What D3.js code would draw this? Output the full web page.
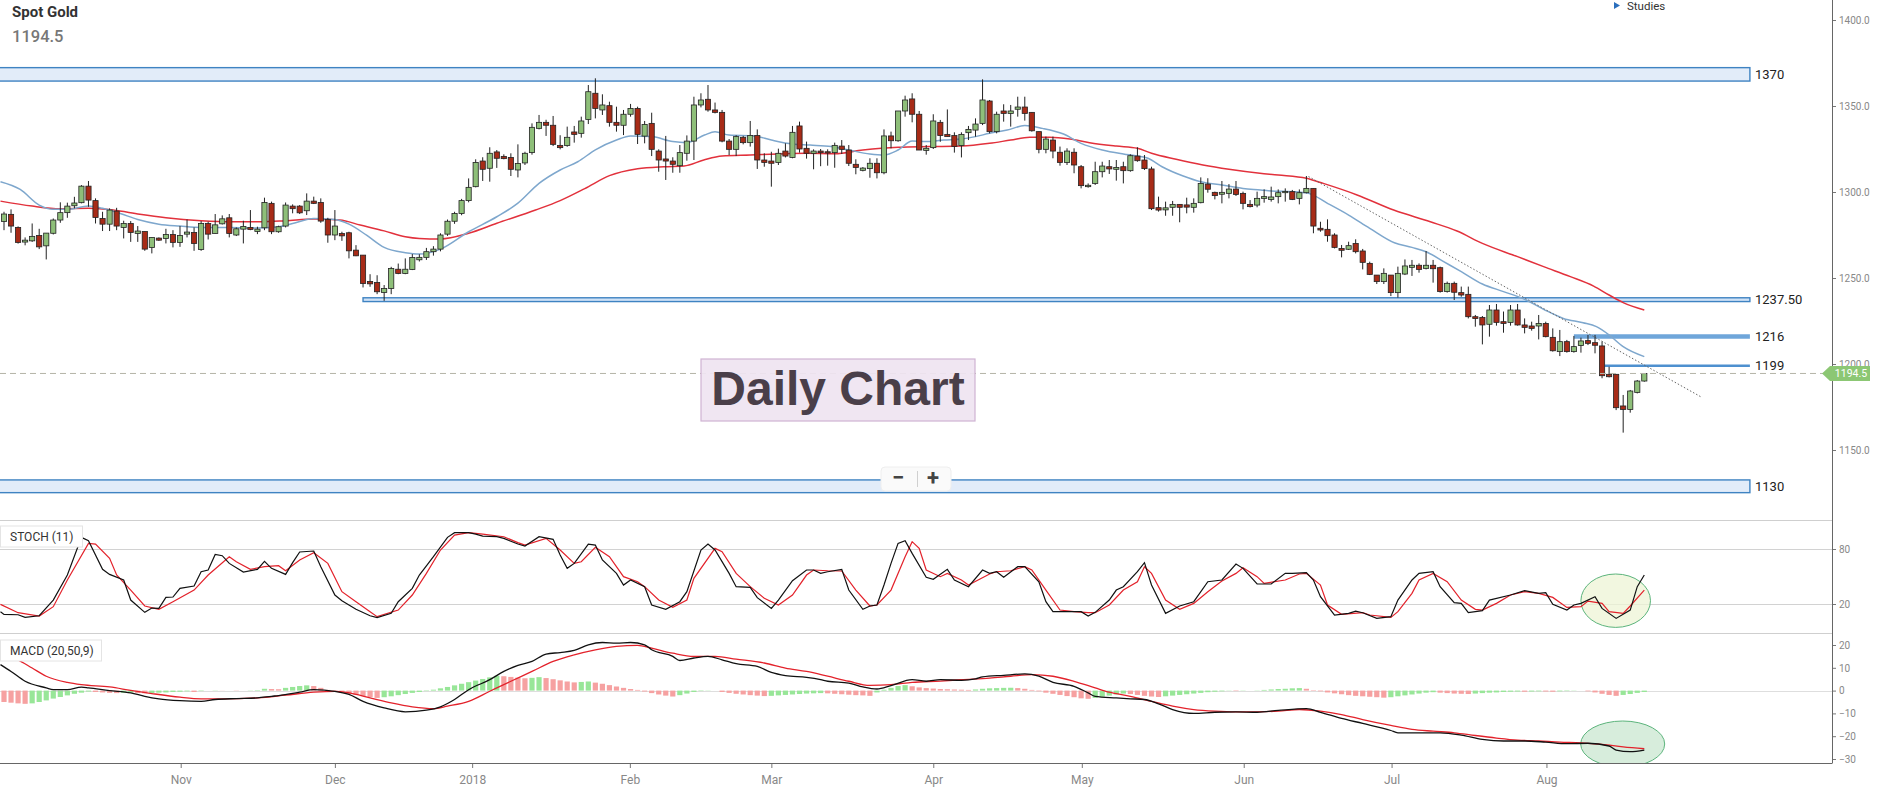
<!DOCTYPE html>
<html lang="en">
<head>
  <meta charset="UTF-8">
  <title>Spot Gold - Daily Chart</title>
  <style>
    body { margin: 0; padding: 0; background: #fff; }
    svg { display: block; font-family: Roboto, "Liberation Sans", Arial, sans-serif; }
    .tick-label { fill: #888; font-size: 10px; }
    .month-label { fill: #888; font-size: 12px; }
    .level-label { fill: #222; font-size: 13px; }
    .panel-title { fill: #333; font-size: 12px; }
  </style>
</head>
<body>
  <svg id="chart" width="1878" height="792"></svg>

  <script src="https://d3js.org/d3.v7.min.js"></script>
  <script>
    // candles, one per trading day (index 0 = first visible candle)
    const opens = [
      1282.9,1287.0,1279.4,1270.9,1271.6,1274.7,1268.7,1276.0,1283.7,1288.0,
      1292.0,1293.8,1303.4,1295.0,1284.6,1281.3,1288.9,1279.4,1281.7,1275.9,
      1277.0,1267.7,1273.2,1273.0,1275.3,1270.7,1275.5,1276.5,1266.6,1281.7,
      1275.9,1281.5,1285.0,1275.0,1278.4,1279.4,1277.1,1279.2,1293.4,1276.9,
      1280.2,1291.8,1291.8,1289.1,1294.7,1293.9,1284.0,1275.0,1275.9,1276.3,
      1266.2,1263.3,1248.0,1247.4,1241.6,1243.9,1255.1,1252.6,1254.9,1260.6,
      1262.0,1265.3,1266.8,1275.5,1283.0,1287.5,1295.0,1303.1,1318.0,1313.8,
      1323.3,1320.7,1320.1,1312.8,1316.9,1322.9,1337.0,1340.5,1338.8,1327.1,
      1327.0,1334.9,1334.1,1342.2,1357.4,1347.7,1350.2,1340.5,1338.8,1345.2,
      1348.6,1332.5,1339.9,1323.8,1319.2,1318.0,1315.3,1322.5,1329.6,1350.6,
      1353.9,1347.7,1346.3,1329.6,1324.8,1331.8,1328.7,1332.9,1318.6,1318.0,
      1317.2,1323.8,1320.1,1338.4,1325.4,1322.5,1323.8,1323.4,1322.9,1326.7,
      1324.4,1316.1,1312.6,1313.6,1316.7,1311.2,1332.6,1329.8,1347.1,1354.1,
      1345.2,1324.2,1325.8,1340.5,1333.5,1332.8,1327.0,1334.5,1336.0,1339.9,
      1352.9,1335.1,1347.1,1345.7,1348.1,1349.4,1346.3,1335.1,1324.8,1330.2,
      1323.1,1317.2,1323.1,1314.7,1303.1,1305.0,1311.8,1314.7,1313.2,1314.7,
      1312.4,1320.9,1318.6,1313.4,1290.9,1289.6,1291.1,1292.8,1292.5,1291.1,
      1293.8,1304.6,1299.8,1298.7,1299.2,1301.7,1299.2,1292.8,1292.4,1296.3,
      1295.7,1297.3,1299.8,1300.2,1296.3,1299.6,1302.1,1278.9,1278.3,1275.0,
      1267.2,1266.7,1270.1,1265.7,1258.5,1251.7,1247.9,1251.7,1241.5,1252.3,
      1256.2,1257.4,1255.6,1257.4,1256.0,1242.1,1246.9,1241.5,1240.5,1227.5,
      1227.1,1223.1,1231.4,1224.6,1224.2,1231.4,1222.7,1222.1,1222.1,1223.6,
      1215.5,1207.2,1213.0,1207.2,1210.7,1213.6,1212.4,1210.5,1194.0,1194.0,
      1175.6,1173.6,1183.5,1190.1
    ];
    const highs = [
      1288.5,1289.9,1280.0,1273.6,1281.7,1278.6,1276.1,1284.6,1294.0,1293.8,
      1297.2,1304.0,1306.4,1296.3,1288.5,1290.5,1290.8,1283.3,1283.1,1280.2,
      1277.0,1273.6,1273.6,1278.6,1277.8,1280.2,1284.0,1279.4,1283.1,1282.7,
      1287.2,1286.4,1287.2,1279.4,1283.3,1289.5,1279.8,1296.7,1294.4,1280.4,
      1293.9,1292.8,1292.4,1299.2,1297.3,1296.3,1285.0,1289.5,1276.9,1276.9,
      1269.1,1263.3,1252.2,1251.6,1245.9,1256.5,1258.4,1261.4,1263.9,1263.8,
      1267.5,1268.5,1276.0,1284.0,1288.5,1296.0,1307.9,1319.0,1320.2,1326.0,
      1324.4,1321.9,1322.5,1327.7,1323.4,1339.9,1344.8,1342.0,1344.2,1333.0,
      1338.0,1338.4,1343.8,1362.2,1366.1,1356.8,1352.5,1349.6,1347.7,1351.2,
      1349.6,1341.3,1346.1,1324.8,1332.6,1320.2,1327.3,1332.9,1355.4,1357.4,
      1362.2,1352.0,1347.7,1330.8,1333.0,1332.6,1341.3,1336.4,1322.5,1323.4,
      1325.2,1328.3,1338.4,1340.9,1329.3,1324.8,1325.0,1324.8,1328.7,1330.2,
      1327.3,1319.0,1314.5,1319.6,1319.6,1336.4,1335.1,1347.1,1356.0,1357.4,
      1347.1,1327.3,1345.2,1341.9,1348.0,1334.7,1334.7,1338.4,1342.8,1365.5,
      1353.5,1346.7,1351.0,1350.6,1355.4,1355.4,1346.3,1335.1,1332.2,1332.2,
      1326.4,1325.4,1325.4,1315.7,1305.0,1317.6,1317.6,1318.6,1318.6,1317.6,
      1321.9,1326.0,1321.5,1314.7,1297.3,1294.4,1294.8,1292.8,1296.7,1296.3,
      1308.5,1308.0,1300.2,1306.4,1304.6,1306.4,1300.2,1295.3,1300.2,1301.5,
      1303.1,1301.5,1302.1,1301.2,1301.5,1309.3,1302.1,1282.7,1284.1,1276.0,
      1269.2,1271.1,1272.5,1266.9,1259.5,1251.7,1255.6,1251.7,1256.6,1260.8,
      1260.5,1258.5,1265.7,1260.5,1256.6,1247.9,1247.9,1245.0,1245.0,1228.5,
      1227.9,1234.3,1234.9,1230.5,1234.3,1234.9,1226.5,1224.6,1228.5,1224.6,
      1220.7,1219.8,1214.0,1216.3,1215.3,1216.9,1216.9,1213.0,1198.4,1194.0,
      1182.0,1184.9,1190.7,1194.6
    ];
    const lows = [
      1277.8,1276.3,1270.0,1269.0,1271.0,1266.8,1260.8,1275.3,1282.1,1285.0,
      1290.5,1293.4,1291.4,1281.7,1277.3,1277.3,1277.8,1273.0,1271.0,1271.0,
      1265.8,1264.3,1271.6,1270.1,1267.8,1268.1,1273.6,1265.8,1265.8,1272.4,
      1275.9,1281.1,1273.6,1274.4,1270.1,1277.8,1275.5,1277.8,1275.5,1276.3,
      1279.4,1287.6,1287.2,1286.6,1293.0,1282.1,1270.5,1272.0,1271.6,1261.4,
      1262.7,1244.5,1244.9,1240.6,1236.7,1240.6,1252.2,1252.2,1254.6,1259.6,
      1260.5,1263.0,1265.5,1274.5,1281.5,1286.5,1294.0,1302.7,1306.4,1306.0,
      1314.0,1319.0,1309.3,1308.5,1315.7,1321.7,1336.4,1332.6,1326.7,1324.8,
      1326.3,1328.7,1331.6,1339.5,1342.8,1344.8,1338.0,1335.1,1333.1,1343.8,
      1327.9,1328.3,1320.9,1311.8,1307.0,1311.2,1311.2,1318.2,1318.6,1349.2,
      1346.7,1345.7,1328.9,1321.5,1320.9,1327.7,1326.4,1313.4,1314.7,1303.1,
      1315.7,1320.1,1319.6,1322.9,1319.4,1313.2,1315.0,1315.3,1314.1,1322.1,
      1315.1,1310.3,1312.0,1308.3,1307.9,1310.3,1325.4,1329.2,1343.8,1340.5,
      1324.4,1321.7,1325.0,1329.2,1332.2,1322.9,1320.1,1330.2,1332.2,1338.9,
      1334.1,1334.1,1340.9,1338.0,1343.8,1341.5,1335.1,1322.5,1322.5,1319.6,
      1315.3,1315.7,1310.9,1302.1,1302.5,1304.1,1308.5,1310.5,1306.6,1305.0,
      1311.8,1317.6,1312.8,1289.5,1288.6,1286.2,1286.2,1282.4,1287.6,1288.0,
      1293.4,1299.6,1295.7,1293.4,1296.3,1297.7,1289.9,1291.0,1291.1,1293.8,
      1294.4,1293.4,1294.4,1295.3,1292.8,1299.2,1276.0,1276.9,1271.1,1267.2,
      1262.0,1266.3,1264.3,1255.0,1251.7,1246.5,1246.5,1239.5,1238.6,1251.7,
      1251.2,1253.1,1255.0,1247.3,1241.5,1241.5,1237.2,1239.1,1226.5,1221.7,
      1211.4,1215.9,1222.3,1218.2,1222.3,1222.3,1217.8,1219.4,1214.3,1215.5,
      1207.2,1204.6,1206.6,1206.6,1206.6,1211.0,1206.2,1191.7,1192.2,1173.2,
      1160.1,1171.7,1182.9,1189.7
    ];
    const closes = [
      1287.2,1280.2,1270.7,1272.0,1274.2,1268.1,1276.1,1283.7,1288.0,1291.8,
      1293.6,1303.4,1295.3,1285.2,1281.3,1289.5,1280.2,1281.7,1276.5,1277.3,
      1266.8,1273.6,1272.0,1275.3,1270.7,1274.7,1276.7,1270.1,1281.7,1275.5,
      1280.9,1284.4,1275.9,1278.6,1280.0,1278.2,1278.4,1293.9,1276.9,1279.8,
      1292.4,1290.3,1287.9,1294.7,1293.4,1283.1,1275.0,1280.2,1274.5,1265.8,
      1262.9,1246.8,1246.6,1242.0,1243.9,1255.5,1252.6,1255.1,1261.9,1262.0,
      1265.3,1266.8,1275.0,1283.0,1287.5,1295.0,1302.7,1317.2,1313.2,1322.5,
      1319.6,1319.4,1313.2,1316.6,1322.5,1337.6,1340.5,1338.8,1327.7,1325.8,
      1331.8,1333.5,1341.3,1358.3,1348.6,1350.6,1340.5,1338.8,1345.2,1348.6,
      1333.5,1339.3,1324.8,1318.6,1318.0,1316.1,1322.9,1329.6,1350.6,1353.5,
      1347.7,1346.3,1329.6,1324.8,1332.2,1328.7,1332.9,1318.6,1317.2,1316.7,
      1322.5,1320.9,1334.7,1325.0,1322.5,1323.8,1322.9,1322.7,1327.1,1324.8,
      1316.7,1314.3,1313.9,1316.7,1311.2,1332.6,1329.8,1347.1,1353.5,1345.2,
      1324.4,1325.4,1341.3,1332.8,1332.2,1326.4,1333.5,1336.4,1339.5,1353.5,
      1335.1,1345.2,1345.7,1347.1,1349.4,1345.7,1335.6,1324.8,1330.8,1323.8,
      1317.2,1323.8,1315.7,1303.7,1303.9,1311.8,1315.1,1313.4,1314.3,1312.4,
      1321.1,1318.2,1313.6,1290.3,1289.5,1290.8,1292.8,1291.1,1291.2,1293.4,
      1305.0,1301.6,1297.9,1299.8,1301.7,1298.6,1293.4,1291.5,1296.3,1297.3,
      1297.1,1299.6,1300.3,1295.7,1299.6,1302.1,1280.2,1277.9,1274.6,1267.8,
      1266.1,1268.8,1265.3,1259.1,1252.1,1247.9,1252.7,1241.5,1252.7,1257.0,
      1257.4,1255.0,1257.4,1255.4,1242.1,1246.9,1241.7,1240.1,1227.5,1226.4,
      1222.7,1231.4,1224.2,1223.6,1231.4,1222.7,1221.3,1220.7,1223.6,1215.9,
      1207.7,1213.0,1207.2,1210.1,1213.4,1212.0,1210.9,1193.2,1192.6,1174.6,
      1173.6,1184.3,1190.1,1194.5
    ];

    // moving averages: [candle index, price]
    const maFast = [[-0.5,1306],[2.3,1301.5],[5,1292.4],[7,1289.9],[9,1289.9],[12,1291.8],[14,1290.5],[16.5,1287.5],[19,1284],[22,1281.3],[25,1280.2],[28,1279.4],[32,1279.4],[35,1279],[39,1279.8],[41,1281.7],[44,1284.6],[47,1284],[49,1281.3],[51.5,1274.9],[54,1267.8],[57,1264.7],[59,1263.9],[62,1266.8],[66,1276.9],[70,1285.6],[73,1293.5],[76,1305],[79,1312.8],[81.5,1317.6],[84,1324.5],[87,1330.2],[89,1332.6],[92,1332.2],[95,1329.3],[97,1328.7],[99.5,1333.1],[101,1335.1],[103,1333.1],[106.5,1332.6],[109,1330.2],[112,1327.9],[114.5,1327.3],[117.5,1326.4],[120,1324.4],[123,1322.1],[125,1321.5],[127,1324.4],[129,1329.6],[131,1329.3],[133.5,1330.2],[136,1330.8],[138,1332.2],[140,1334.1],[142.5,1336],[145,1338.6],[147.5,1337],[150.5,1333.7],[153,1328.3],[156,1324.4],[159,1322.1],[161,1320.9],[162.5,1319.6],[164.5,1314.7],[167.5,1309.3],[170,1306],[173,1304.1],[176,1302.1],[178.5,1301.2],[180,1300.6],[183,1300.2],[185.3,1299.2],[188,1293.4],[191,1286.6],[194,1278.9],[197.5,1270.5],[200,1267.8],[202,1265.3],[204.5,1259.5],[207,1253.7],[210,1246.5],[213,1242.1],[216,1237.6],[218.7,1231.8],[221.5,1226.5],[224.3,1224],[226.2,1221.7],[228,1216.9],[230,1210.1],[233,1204.3]];
    const maSlow = [[-0.5,1294.7],[4,1291.8],[8,1290.3],[12,1290.5],[15.5,1289.5],[19.3,1287],[23,1285],[28,1283.3],[32.5,1282.7],[36.5,1282.7],[40,1283.3],[44,1284.3],[47.7,1283.7],[50.6,1280.8],[54,1277.4],[57,1274],[59,1273],[62,1272.7],[66,1276],[70,1281.8],[75.5,1289.5],[79,1295],[82.5,1302],[86,1309.5],[90,1313.5],[93.7,1314.7],[96.6,1315.1],[99.4,1318.6],[102,1320.9],[106,1321.5],[110,1322.1],[114,1322.5],[118,1322.3],[122,1324.4],[127,1326],[131.5,1326.4],[136,1326.7],[140,1328.3],[143,1330.2],[145.7,1331.8],[148.5,1331.8],[151.4,1330.8],[154.2,1328.7],[158,1326.7],[161,1325.4],[163,1322.5],[166.5,1319],[170.3,1315.7],[174,1313.2],[178.4,1310.9],[181,1309.9],[185,1308],[187.4,1305],[192.2,1298.3],[197.4,1289.5],[202.6,1282.7],[206.4,1277.3],[210,1270.1],[215,1262.4],[218.7,1256.6],[222.5,1250.8],[225.8,1245.3],[228,1240.1],[230,1235.7],[233,1231.4]];

    // dotted trend line: [candle index, price]
    const trendLine = [[185.3,1309],[241,1181]];

    // horizontal levels
    const bandLabels = ['1370', '1237.50', '1130'];
    const bandHigh = [1372.3, 1238.5, 1132.6];
    const bandLow = [1364.5, 1236.3, 1125.2];
    const bandStart = [-2, 51, -2];
    const lineLabels = ['1216', '1199'];
    const linePrice = [1216, 1199];
    const lineStart = [223, 227.4];
    const levelEnd = 248;

    // STOCH (11): [candle index, value]
    const stochK = [[-0.5,11.6],[0,8.7],[2,8.3],[3,5.4],[5,7.2],[7,24.3],[9,51.6],[11,92.7],[12,89.1],[14,57.8],[15,52.3],[17,46.2],[18,24.3],[20,10.9],[21,15.6],[22,15.2],[23,27.2],[24,27.6],[25,37.1],[27,39.6],[28,55.2],[29,57.1],[30,74.1],[31,72.7],[32,64.3],[34,54.9],[36,57.8],[37,66.5],[38,58.9],[40,52.3],[41,65.1],[42,76.7],[44,77.8],[45,60.7],[47,29.8],[48,23.6],[50,14.2],[52,7.2],[53,5.1],[55,9.8],[56,22.5],[58,37.1],[59,51.6],[61,71.6],[63,92.7],[64,97.8],[66,97.8],[67,96.3],[68,94.1],[70,93.4],[71,91.6],[73,85.4],[74,83.2],[76,93.4],[78,90.5],[79,73.4],[80,58.9],[81,64.3],[83,85.4],[84,84.3],[85,68],[87,53.4],[88,40.7],[89,46.2],[91,38.9],[92,18.9],[94,14.2],[96,22.5],[97,33.4],[99,78.9],[100,85.4],[101,78.9],[103,53.4],[104,38.9],[106,38.2],[107,26.9],[109,15.2],[110,24.3],[112,45.4],[114,57.1],[115,57.1],[116,53.4],[117,55.2],[119,57.8],[120,35.2],[122,14.2],[123,17.8],[124,18.9],[125,40.7],[126,64.3],[127,86.1],[128,89.1],[129,75.2],[131,49.1],[132,46.9],[134,57.8],[135,46.2],[137,38.9],[139,57.1],[140,53.4],[141,55.2],[142,49.1],[144,60.7],[145,60.7],[147,44.3],[148,22.5],[149,11.6],[151,11.6],[153,11.6],[154,6.9],[155,10.9],[157,24.3],[158,35.2],[159,38.9],[161,55.2],[162,65.1],[163,40.7],[165,9.8],[167,17.8],[169,22.5],[171,44.3],[173,46.2],[175,63.6],[176,58.9],[178,41.8],[180,41.8],[182,53.4],[183,53.4],[185,54.2],[186,46.2],[187,28],[189,8],[191,9.8],[192,12.3],[193,10.5],[195,4.3],[197,6.2],[198,24.3],[200,46.2],[201,53.4],[203,55.2],[204,38.9],[206,21.4],[207,20.7],[208,10.5],[210,12.7],[211,24.3],[214,29.8],[216,34.5],[218,31.6],[219,32.3],[220,19.6],[222,13.4],[223,18.9],[224,20.7],[226,28],[227,15.2],[229,4.3],[231,13.4],[232,38.9],[233,51.6]];
    const stochD = [[-0.5,19.6],[2,10.5],[5,6.9],[7,17.1],[9,46.2],[12,86.1],[13,85.4],[15,69.8],[16,51.6],[18,35.2],[20,17.8],[22,14.2],[24,22.5],[27,35.2],[29,51.6],[32,71.6],[33,66.1],[35,57.8],[37,60.7],[39,61.8],[40,56.3],[42,68],[44,76],[46,64.3],[48,33.4],[50,22.5],[52,11.6],[53,6.2],[56,13.4],[58,29.8],[60,53.4],[62,78.9],[64,95.2],[66,97.8],[68,96.3],[71,93.4],[73,86.9],[74,84.3],[77,91.6],[79,78.9],[81,64.3],[82,66.1],[84,81.8],[86,71.6],[88,49.8],[90,44.3],[91,38.9],[93,24.3],[95,16.3],[97,24.3],[98,48],[101,80.7],[102,77.1],[104,53.4],[106,38.9],[108,26.2],[110,18.9],[112,29.8],[114,51.6],[115,57.1],[117,56.3],[119,56],[121,35.2],[123,17.8],[124,18.9],[126,35.2],[128,71.6],[129,88],[130,80.7],[131,57.1],[133,49.8],[134,53.4],[136,46.2],[137,40.7],[140,52.7],[141,55.2],[143,56.3],[145,60.7],[146,57.1],[148,35.2],[150,13.4],[152,11.6],[154,10.5],[155,10.5],[157,18.9],[159,35.2],[161,44.3],[162,60.7],[163,53.4],[165,24.3],[167,14.2],[169,20.7],[171,33.4],[173,45.1],[175,53.4],[176,59.6],[178,49.8],[179,42.5],[182,46.2],[184,52.7],[185,53.4],[187,40.7],[188,18.9],[190,8.7],[193,10.5],[194,8],[197,5.4],[198,11.6],[200,31.6],[201,46.2],[203,53.4],[205,44.3],[207,24.3],[209,14.2],[210,13.4],[212,20.7],[214,29.8],[216,33.4],[218,31.6],[220,27.2],[222,16.3],[224,17.1],[225,23.2],[227,20.7],[228,11.6],[230,9.8],[231,17.8],[233,35.2]];

    // MACD (20,50,9): [candle index, value]
    const macdLine = [[-0.5,11.4],[1,8.4],[3,4.1],[6,1.2],[7,0.4],[9,0.4],[11,1.5],[12,1.2],[15,0],[18,-1],[20,-2.5],[22,-3.6],[25,-4.4],[28,-4.7],[30,-3.9],[33,-3.5],[36,-3.2],[38,-2.5],[39,-2.2],[42,-0.7],[44,0.4],[47,-0.3],[49,-1.7],[51,-4.7],[54,-7.6],[57,-9.3],[60,-8.6],[62,-7.1],[64,-3.9],[66,0.4],[69,4.8],[71,8.4],[73,11.1],[75,12.8],[77,16],[79,16.7],[81,17.6],[83,20.1],[85,21.1],[87,20.8],[89,21.1],[91,20.1],[92,17.9],[95,15],[96,13.2],[98,14.3],[100,15],[102,13.5],[104,11.8],[107,10.6],[109,8],[111,6.6],[114,5.8],[116,4.8],[117,4.1],[120,3.3],[122,1.6],[124,0.7],[126,2.2],[129,4.8],[131,4.1],[133,4.8],[136,4.5],[138,5.1],[139,6],[142,6.7],[145,7.3],[147,6.3],[149,3.6],[152,1.9],[154,-1],[155,-2.5],[158,-3.2],[160,-3.6],[162,-3.9],[164,-5.8],[166,-8.3],[169,-10],[172,-9.5],[175,-9.3],[178,-9.5],[181,-8.7],[185,-7.9],[187,-9.5],[190,-12.2],[193,-14.4],[197,-17.5],[198,-18.5],[201,-18.5],[204,-18.5],[207,-19.5],[210,-21.4],[213,-22.1],[216,-22.1],[219,-22.6],[222,-23.3],[225,-23.1],[228,-24.3],[229,-26.1],[231,-26.8],[233,-26.1]];
    const signalLine = [[-0.5,16.7],[2,13.5],[4,9.9],[6,6.3],[9,3.6],[11,2.6],[15,1.6],[18,0.1],[21,-1.3],[25,-2.9],[28,-3.6],[31,-3.6],[36,-3.2],[40,-2],[44,-0.7],[47,-0.3],[49,-1],[52,-3.2],[55,-5.4],[58,-7.1],[61,-7.9],[63,-6.8],[66,-4.7],[69,-0.3],[72,4.1],[75,8.4],[78,12.8],[81,15.7],[84,17.9],[87,19.4],[90,19.8],[92,18.6],[95,16.4],[98,15],[101,15],[104,13.8],[108,12.1],[111,9.9],[114,8.4],[117,6.3],[120,4.1],[123,2.3],[126,2.6],[129,3.6],[133,4.2],[136,4.8],[140,5.5],[143,6.3],[146,7],[149,6.3],[152,4.1],[155,1.2],[157,-0.7],[160,-2.5],[163,-4.7],[166,-6.8],[169,-8.3],[172,-9],[175,-9.3],[178,-9.3],[181,-9],[184,-8.3],[187,-9],[190,-10.5],[193,-12.7],[197,-15.3],[200,-17],[203,-17.8],[206,-18.5],[209,-19.7],[212,-20.8],[215,-21.7],[218,-22.1],[221,-22.6],[224,-22.9],[227,-23.6],[230,-24.7],[233,-25.5]];
    // histogram, one bar per candle
    const macdHist = [
      -5.0,-5.3,-5.6,-5.8,-5.6,-5.0,-4.3,-3.5,-2.8,-2.1,
      -1.4,-0.9,-0.4,-0.6,-0.8,-1.0,-1.1,-1.0,-0.9,-1.1,
      -1.2,-1.1,-0.9,-0.8,-0.6,-0.5,-0.3,-0.6,-0.2,0.0,
      0.1,0.05,0.0,-0.1,0.0,0.1,0.2,0.8,0.7,0.6,
      1.2,1.6,2.0,2.3,2.0,1.2,0.3,-0.4,-0.9,-1.4,
      -1.9,-2.4,-2.8,-3.2,-2.9,-2.5,-2.0,-1.5,-1.0,-0.6,
      -0.2,0.4,1.0,1.6,2.3,3.0,3.7,4.4,5.1,5.8,
      6.5,6.3,6.0,5.7,5.4,5.6,5.9,5.5,5.0,4.5,
      4.0,3.6,3.8,4.0,3.5,3.0,2.4,1.8,1.2,0.7,
      0.3,-0.4,-1.1,-1.7,-2.2,-2.6,-2.0,-1.3,-0.6,-0.2,
      0.1,0.0,-0.6,-1.0,-1.4,-1.7,-2.0,-2.2,-2.4,-2.3,
      -2.1,-1.9,-1.7,-1.5,-1.3,-1.2,-1.1,-1.2,-1.4,-1.6,
      -1.8,-2.0,-2.1,-2.3,-0.8,0.4,1.2,2.0,2.4,1.9,
      1.4,1.1,0.9,0.7,0.6,0.5,0.4,0.3,0.5,0.8,
      1.0,1.1,1.2,1.25,1.1,0.8,0.3,-0.3,-0.9,-1.4,
      -1.9,-2.4,-2.9,-3.4,-3.6,-3.2,-2.7,-2.2,-1.7,-1.3,
      -1.5,-1.9,-2.3,-2.6,-2.8,-2.5,-2.2,-1.9,-1.6,-1.3,
      -1.0,-0.7,-0.5,-0.3,-0.1,-0.2,-0.1,0.0,0.1,0.3,
      0.5,0.7,0.8,1.0,1.1,0.8,0.2,-0.3,-0.8,-1.2,
      -1.6,-2.0,-2.3,-2.5,-2.7,-2.9,-3.1,-2.9,-2.5,-2.1,
      -1.7,-1.3,-0.9,-0.7,-0.9,-1.1,-1.3,-1.4,-1.5,-1.3,
      -1.1,-0.9,-0.8,-0.6,-0.5,-0.4,-0.5,-0.4,-0.3,-0.4,
      -0.5,-0.3,-0.2,-0.1,0.0,-0.3,-0.8,-1.4,-1.9,-2.3,
      -1.9,-1.5,-1.0,-0.6
    ];

    // month ticks on the time axis (candle index where each month starts)
    const monthLabels = ['Nov', 'Dec', '2018', 'Feb', 'Mar', 'Apr', 'May', 'Jun', 'Jul', 'Aug'];
    const monthAt = [25.1, 47, 66.5, 88.9, 109, 132, 153.1, 176.1, 197.1, 219.1];

    const priceTicks = [1150, 1200, 1250, 1300, 1350, 1400];
    const stochTicks = [20, 80];
    const macdTicks = [-30, -20, -10, 0, 10, 20];

    const lastPrice = closes[closes.length - 1];

    // ---- layout ----
    const svg = d3.select('#chart');
    const axisX = 1832;
    const mainBottom = 520, stochBottom = 633, macdBottom = 763;

    const x = d3.scaleLinear().domain([0, 233]).range([4, 1644.3]);
    const yPrice = d3.scaleLinear().domain([1150, 1400]).range([450, 20]);
    const yStoch = d3.scaleLinear().domain([20, 80]).range([604, 549]);
    const yMacd = d3.scaleLinear().domain([-30, 20]).range([759, 645]);

    const defs = svg.append('defs');
    function clip(id, y0, y1) {
      defs.append('clipPath').attr('id', id)
        .append('rect').attr('x', 0).attr('y', y0).attr('width', axisX).attr('height', y1 - y0);
    }
    clip('clip-main', 0, mainBottom);
    clip('clip-stoch', mainBottom, stochBottom);
    clip('clip-macd', stochBottom, macdBottom);

    svg.append('rect').attr('width', 1878).attr('height', 792).attr('fill', '#fff');

    // panel grid lines
    const grid = svg.append('g').attr('stroke-width', 1).attr('shape-rendering', 'crispEdges');
    [mainBottom, stochBottom].forEach(y => {
      grid.append('line').attr('x1', 0).attr('x2', axisX).attr('y1', y).attr('y2', y).attr('stroke', '#cfcfcf');
    });
    stochTicks.forEach(v => {
      grid.append('line').attr('x1', 0).attr('x2', axisX)
        .attr('y1', Math.round(yStoch(v)) + 0.5).attr('y2', Math.round(yStoch(v)) + 0.5).attr('stroke', '#d2d2d2');
    });
    grid.append('line').attr('x1', 0).attr('x2', axisX)
      .attr('y1', Math.round(yMacd(0)) + 0.5).attr('y2', Math.round(yMacd(0)) + 0.5).attr('stroke', '#dedede');

    // ---- main price panel ----
    const main = svg.append('g').attr('clip-path', 'url(#clip-main)');

    bandLabels.forEach((label, i) => {
      main.append('rect')
        .attr('x', x(bandStart[i]))
        .attr('y', yPrice(bandHigh[i]))
        .attr('width', x(levelEnd) - x(bandStart[i]))
        .attr('height', yPrice(bandLow[i]) - yPrice(bandHigh[i]))
        .attr('fill', i === 1 ? '#cfe2f6' : '#e2ecf9')
        .attr('stroke', '#3f83c2')
        .attr('stroke-width', 1.4);
    });
    const lineWidths = [4.5, 2.6];
    const lineColors = ['#6fa6da', '#4e90cf'];
    lineLabels.forEach((label, i) => {
      main.append('line')
        .attr('x1', x(lineStart[i])).attr('x2', x(levelEnd))
        .attr('y1', yPrice(linePrice[i])).attr('y2', yPrice(linePrice[i]))
        .attr('stroke', lineColors[i]).attr('stroke-width', lineWidths[i]);
    });

    const priceLine = d3.line().x(d => x(d[0])).y(d => yPrice(d[1])).curve(d3.curveMonotoneX);
    main.append('path').datum(maSlow).attr('d', priceLine)
      .attr('fill', 'none').attr('stroke', '#e2313c').attr('stroke-width', 1.5);
    main.append('path').datum(maFast).attr('d', priceLine)
      .attr('fill', 'none').attr('stroke', '#7ea7cd').attr('stroke-width', 1.5);
    main.append('path').datum(trendLine).attr('d', d3.line().x(d => x(d[0])).y(d => yPrice(d[1])))
      .attr('fill', 'none').attr('stroke', '#666').attr('stroke-width', 1).attr('stroke-dasharray', '1.5,2');

    // candles
    const candles = main.append('g').selectAll('g')
      .data(opens.map((o, i) => ({ i, o, h: highs[i], l: lows[i], c: closes[i] })))
      .enter().append('g');

    candles.append('line')
      .attr('x1', d => x(d.i)).attr('x2', d => x(d.i))
      .attr('y1', d => yPrice(d.h)).attr('y2', d => yPrice(d.l))
      .attr('stroke', '#222').attr('stroke-width', 1);

    candles.append('rect')
      .attr('x', d => x(d.i) - 2.6)
      .attr('width', 5.2)
      .attr('y', d => yPrice(Math.max(d.o, d.c)))
      .attr('height', d => Math.max(1.2, Math.abs(yPrice(d.o) - yPrice(d.c))))
      .attr('fill', d => d.c >= d.o ? '#8ebf79' : '#a72b17')
      .attr('stroke', '#222').attr('stroke-width', 0.8);

    // current price line
    svg.append('line')
      .attr('x1', 0).attr('x2', axisX)
      .attr('y1', yPrice(lastPrice)).attr('y2', yPrice(lastPrice))
      .attr('stroke', '#b4b4a8').attr('stroke-width', 1).attr('stroke-dasharray', '6,4');

    // "Daily Chart" note
    svg.append('rect')
      .attr('x', 701).attr('y', 359).attr('width', 274).attr('height', 62)
      .attr('fill', '#efe4f1').attr('fill-opacity', 0.92)
      .attr('stroke', '#cfb3d3').attr('stroke-width', 1.2);
    svg.append('text')
      .attr('x', 838).attr('y', 405)
      .attr('text-anchor', 'middle')
      .style('font-family', '"Liberation Sans", Arial, sans-serif')
      .style('font-weight', 'bold').style('font-size', '48px')
      .attr('fill', '#4a3f49')
      .text('Daily Chart');

    // zoom buttons
    const zoomBox = svg.append('g');
    zoomBox.append('rect')
      .attr('x', 881).attr('y', 467).attr('width', 70).attr('height', 24).attr('rx', 4)
      .attr('fill', '#fafafa').attr('stroke', '#eeeeee');
    zoomBox.append('line').attr('x1', 917.5).attr('x2', 917.5).attr('y1', 471).attr('y2', 487).attr('stroke', '#d0d0d0');
    zoomBox.append('text').attr('x', 898).attr('y', 485).attr('text-anchor', 'middle')
      .style('font-size', '22px').style('font-weight', 'bold').attr('fill', '#444').text('\u2212');
    zoomBox.append('text').attr('x', 933).attr('y', 485).attr('text-anchor', 'middle')
      .style('font-size', '22px').style('font-weight', 'bold').attr('fill', '#444').text('+');

    // level labels
    bandLabels.forEach((label, i) => {
      svg.append('text').attr('class', 'level-label')
        .attr('x', 1755).attr('y', yPrice((bandHigh[i] + bandLow[i]) / 2)).attr('dy', '0.36em')
        .text(label);
    });
    lineLabels.forEach((label, i) => {
      svg.append('text').attr('class', 'level-label')
        .attr('x', 1755).attr('y', yPrice(linePrice[i])).attr('dy', '0.36em')
        .text(label);
    });

    // ---- STOCH panel ----
    const stoch = svg.append('g').attr('clip-path', 'url(#clip-stoch)');
    stoch.append('ellipse')
      .attr('cx', 1615.7).attr('cy', 600.7).attr('rx', 34.8).attr('ry', 26.7)
      .attr('fill', '#eef4d6').attr('fill-opacity', 0.75)
      .attr('stroke', '#5cb47c').attr('stroke-width', 1);
    const stochPath = d3.line().x(d => x(d[0])).y(d => yStoch(d[1]));
    stoch.append('path').datum(stochD).attr('d', stochPath)
      .attr('fill', 'none').attr('stroke', '#e3222b').attr('stroke-width', 1.2);
    stoch.append('path').datum(stochK).attr('d', stochPath)
      .attr('fill', 'none').attr('stroke', '#111').attr('stroke-width', 1.2);

    // ---- MACD panel ----
    const macd = svg.append('g').attr('clip-path', 'url(#clip-macd)');
    macd.append('g').selectAll('rect')
      .data(macdHist)
      .enter().append('rect')
      .attr('x', (d, i) => x(i) - 2.6)
      .attr('width', 5.2)
      .attr('y', d => Math.min(yMacd(d), yMacd(0)))
      .attr('height', d => Math.abs(yMacd(d) - yMacd(0)))
      .attr('fill', (d, i) => (i > 0 && d >= macdHist[i - 1]) ? '#98e698' : '#f6a1a1');
    macd.append('ellipse')
      .attr('cx', 1622.7).attr('cy', 744).attr('rx', 42).attr('ry', 23)
      .attr('fill', '#cde9d3').attr('fill-opacity', 0.8)
      .attr('stroke', '#5cb47c').attr('stroke-width', 1);
    const macdPath = d3.line().x(d => x(d[0])).y(d => yMacd(d[1])).curve(d3.curveMonotoneX);
    macd.append('path').datum(signalLine).attr('d', macdPath)
      .attr('fill', 'none').attr('stroke', '#e3222b').attr('stroke-width', 1.3);
    macd.append('path').datum(macdLine).attr('d', macdPath)
      .attr('fill', 'none').attr('stroke', '#111').attr('stroke-width', 1.3);

    // panel titles
    function panelTitle(text, y, w) {
      svg.append('rect').attr('x', 0.5).attr('y', y).attr('width', w).attr('height', 21)
        .attr('fill', '#fff').attr('stroke', '#e4e4e4');
      svg.append('text').attr('class', 'panel-title').attr('x', 10).attr('y', y + 15).text(text);
    }
    panelTitle('STOCH (11)', 526, 82);
    panelTitle('MACD (20,50,9)', 640, 101);

    // ---- axes ----
    function rightAxis(scale, ticks, fmt) {
      const g = svg.append('g').attr('transform', `translate(${axisX},0)`)
        .call(d3.axisRight(scale).tickValues(ticks).tickFormat(fmt).tickSize(4).tickPadding(3));
      g.select('.domain').remove();
      g.selectAll('.tick line').attr('stroke', '#777');
      g.selectAll('.tick text').attr('class', 'tick-label').attr('fill', null).style('font-family', 'Roboto, sans-serif');
    }
    rightAxis(yPrice, priceTicks, d3.format('.1f'));
    rightAxis(yStoch, stochTicks, d3.format('d'));
    rightAxis(yMacd, macdTicks, d3.format('d'));

    const bottom = svg.append('g').attr('transform', `translate(0,${macdBottom})`)
      .call(d3.axisBottom(x).tickValues(monthAt).tickFormat((d, i) => monthLabels[i]).tickSize(5).tickPadding(7));
    bottom.select('.domain').remove();
    bottom.selectAll('.tick line').attr('stroke', '#777');
    bottom.selectAll('.tick text').attr('class', 'month-label').attr('fill', null).style('font-family', 'Roboto, sans-serif');

    svg.append('line').attr('x1', axisX + 0.5).attr('x2', axisX + 0.5).attr('y1', 0).attr('y2', macdBottom)
      .attr('stroke', '#666').attr('stroke-width', 1);
    svg.append('line').attr('x1', 0).attr('x2', axisX + 0.5).attr('y1', macdBottom + 0.5).attr('y2', macdBottom + 0.5)
      .attr('stroke', '#666').attr('stroke-width', 1);

    // current price tag on the axis
    const tagY = yPrice(lastPrice);
    svg.append('path')
      .attr('d', `M1822,${tagY} L1830,${tagY - 7.5} L1870,${tagY - 7.5} L1870,${tagY + 7.5} L1830,${tagY + 7.5} Z`)
      .attr('fill', '#8cc774');
    svg.append('text').attr('x', 1851).attr('y', tagY).attr('dy', '0.35em')
      .attr('text-anchor', 'middle').attr('fill', '#fff')
      .style('font-size', '10.5px')
      .text(d3.format('.1f')(lastPrice));

    // ---- header ----
    svg.append('text').attr('x', 12).attr('y', 17)
      .style('font-size', '15px').style('font-weight', 'bold').attr('fill', '#333')
      .text('Spot Gold');
    svg.append('text').attr('x', 12).attr('y', 41.5)
      .style('font-size', '16.5px').style('font-weight', '500').attr('fill', '#777')
      .text(d3.format('.1f')(lastPrice));

    svg.append('path').attr('d', 'M1614,2 L1620,5.5 L1614,9 Z').attr('fill', '#2b6fbd');
    svg.append('text').attr('x', 1627).attr('y', 10)
      .style('font-size', '11.5px').attr('fill', '#333')
      .text('Studies');
  </script>
</body>
</html>
